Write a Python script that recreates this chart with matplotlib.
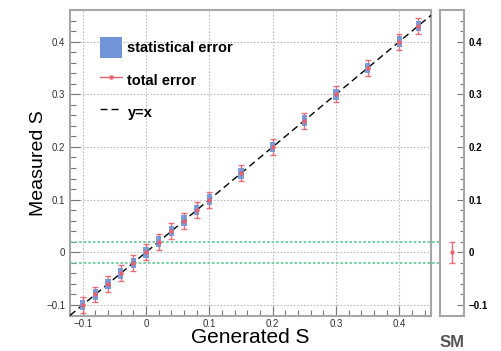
import matplotlib
matplotlib.use("Agg")
import matplotlib.pyplot as plt
from matplotlib.patches import Patch
from matplotlib.lines import Line2D
from matplotlib.ticker import MultipleLocator
from matplotlib.transforms import blended_transform_factory
import numpy as np

plt.rcParams['font.family'] = ['Liberation Sans', 'DejaVu Sans']

# Injected vs. fitted S values
generated = [-0.10, -0.08, -0.06, -0.04, -0.02, 0.00, 0.02, 0.04, 0.06, 0.08,
             0.10, 0.15, 0.20, 0.25, 0.30, 0.35, 0.40, 0.43]
measured = [-0.10, -0.08, -0.06, -0.04, -0.02, 0.00, 0.02, 0.04, 0.06, 0.08,
            0.10, 0.15, 0.20, 0.25, 0.30, 0.35, 0.40, 0.43]
stat_err = [0.010] * len(generated)
total_err = [0.015] * len(generated)

# Standard Model expectation
sm_value = 0.0
sm_err = 0.02

x_range = (-0.12, 0.45)
y_range = (-0.121, 0.46)

blue = '#6f94d8'
red = '#e8606e'
green = '#74d2a4'
frame = '#a6a6a6'

fig = plt.figure(figsize=(5.01, 3.51), dpi=100)
ax = fig.add_axes([0.1397, 0.0997, 0.7206, 0.8718])
ax2 = fig.add_axes([0.878, 0.0997, 0.0479, 0.8718])

for a in (ax, ax2):
    for s in a.spines.values():
        s.set_color(frame)
        s.set_linewidth(1.5)
    a.set_ylim(*y_range)
    a.yaxis.set_major_locator(MultipleLocator(0.1))
    a.yaxis.set_minor_locator(MultipleLocator(0.02))

ax.set_xlim(*x_range)
ax.xaxis.set_major_locator(MultipleLocator(0.1))
ax.xaxis.set_minor_locator(MultipleLocator(0.02))
ax.grid(True, which='major', color='#bdbdbd', linestyle=(0, (1.5, 1.5)), linewidth=0.8)
ax.set_axisbelow(True)

ax.tick_params(which='both', direction='in', colors='#777777', labelcolor='#333333',
               labelsize=7, top=False, right=False)
ax.tick_params(which='major', length=7, width=0.8)
ax.tick_params(which='minor', length=4, width=0.8)
ax.tick_params(axis='x', pad=2.5)

def fmt(v, _=None):
    if abs(v) < 1e-9:
        return '0'
    return ('\u22120' + f'{abs(v):.1f}'[1:]) if v < 0 else f'{v:.1f}'

ax.xaxis.set_major_formatter(fmt)
ax.yaxis.set_major_formatter(fmt)

# y = x reference line
xs = np.array(x_range)
ax.plot(xs, xs, color='black', linestyle=(0, (5, 3)), linewidth=1.0, zorder=3)

# total error bars
ax.errorbar(generated, measured, yerr=total_err, fmt='none', ecolor=red,
            elinewidth=1.0, capsize=2.5, capthick=1.0, zorder=4, alpha=0.9)

# statistical error boxes
stat = np.array(stat_err)
ax.bar(generated, 2 * stat, bottom=np.array(measured) - stat, width=0.008,
       color=blue, alpha=0.9, zorder=5, linewidth=0)
ax.plot(generated, measured, 'o', color=red, markersize=2.2, zorder=6)

ax.set_xlabel('Generated S', fontsize=15, labelpad=-1)
ax.set_ylabel('Measured S', fontsize=14, labelpad=-1)

handles = [Patch(facecolor=blue, edgecolor='none'),
           Line2D([], [], color=red, marker='o', markersize=2.2, linewidth=1.0),
           Line2D([], [], color='black', linestyle=(0, (5, 3)), linewidth=1.0)]
labels = ['statistical error', 'total error', 'y=x']
ax.legend(handles, labels, loc='upper left', bbox_to_anchor=(0.046, 0.955),
          frameon=False, prop={'weight': 'bold', 'size': 10.5},
          handlelength=1.5, handleheight=1.9, handletextpad=0.4, labelspacing=0.73)

# right panel: SM expectation
ax2.set_xlim(0, 1)
ax2.set_xticks([])
ax2.yaxis.tick_right()
ax2.tick_params(which='both', direction='in', colors='#777777', labelcolor='black',
                labelsize=7, left=False, right=True)
ax2.tick_params(which='major', length=5, width=0.8)
ax2.tick_params(which='minor', length=3, width=0.8)
for lab in ax2.get_yticklabels():
    lab.set_fontweight('bold')
ax2.yaxis.set_major_formatter(fmt)
ax2.errorbar([0.5], [sm_value], yerr=[sm_err], fmt='o', color=red, markersize=2.2,
             elinewidth=1.0, capsize=2.5, capthick=1.0, alpha=0.9)
ax2.set_xlabel('SM', fontsize=12, fontweight='bold', color='#555555', labelpad=14)

# SM band edges carried across both panels
fig.canvas.draw()
p1 = ax.get_position()
p2 = ax2.get_position()
x_end = p2.x0 + 0.5 * p2.width
trans = blended_transform_factory(fig.transFigure, ax.transData)
for yv in (sm_value - sm_err, sm_value + sm_err):
    ax.add_line(Line2D([p1.x0, x_end], [yv, yv], transform=trans, color=green,
                       linestyle=(0, (1.2, 1.0)), linewidth=1.5, clip_on=False, zorder=2))

fig.savefig('out.png', dpi=100)
